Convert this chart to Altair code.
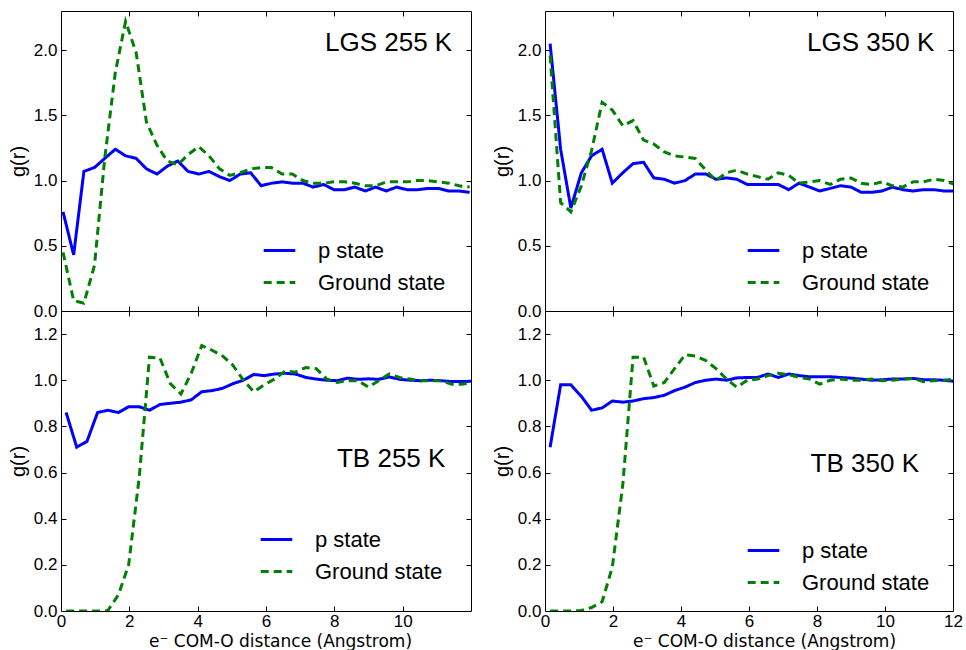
import altair as alt
import pandas as pd

# radial grid (Angstrom)
R_A = [0.06, 0.37, 0.67, 0.98, 1.28, 1.59, 1.89, 2.20, 2.50, 2.81, 3.11, 3.42, 3.72, 4.03, 4.33,
       4.64, 4.94, 5.25, 5.55, 5.86, 6.16, 6.47, 6.77, 7.08, 7.38, 7.69, 7.99, 8.30, 8.60, 8.91,
       9.21, 9.52, 9.82, 10.13, 10.43, 10.74, 11.04, 11.35, 11.65, 11.96]
R_B = [0.15, 0.46, 0.76, 1.07, 1.37, 1.68, 1.98, 2.29, 2.59, 2.90, 3.20, 3.51, 3.81, 4.12, 4.42,
       4.73, 5.03, 5.34, 5.64, 5.95, 6.25, 6.56, 6.86, 7.17, 7.47, 7.78, 8.08, 8.39, 8.69, 9.00,
       9.30, 9.61, 9.91, 10.22, 10.52, 10.83, 11.13, 11.44, 11.74, 12.05]

LGS255_P = [0.76, 0.43, 1.07, 1.10, 1.17, 1.24, 1.19, 1.17, 1.09, 1.05,
            1.11, 1.15, 1.07, 1.05, 1.07, 1.03, 1.00, 1.05, 1.06, 0.96,
            0.98, 0.99, 0.98, 0.98, 0.95, 0.97, 0.93, 0.93, 0.95, 0.92,
            0.95, 0.92, 0.95, 0.93, 0.93, 0.94, 0.94, 0.92, 0.92, 0.91]
LGS255_G = [0.45, 0.08, 0.06, 0.35, 1.17, 1.83, 2.22, 1.98, 1.45, 1.27,
            1.15, 1.12, 1.20, 1.26, 1.19, 1.09, 1.04, 1.06, 1.09, 1.10,
            1.10, 1.05, 1.05, 1.00, 0.98, 0.98, 0.99, 0.99, 0.98, 0.96,
            0.96, 0.99, 0.99, 0.99, 1.00, 1.00, 0.99, 0.98, 0.96, 0.95]
LGS350_P = [2.05, 1.24, 0.79, 1.06, 1.19, 1.24, 0.98, 1.06, 1.13, 1.14,
            1.02, 1.01, 0.98, 1.00, 1.05, 1.05, 1.01, 1.02, 1.01, 0.97,
            0.97, 0.97, 0.97, 0.93, 0.98, 0.95, 0.92, 0.94, 0.96, 0.95,
            0.91, 0.91, 0.92, 0.95, 0.93, 0.92, 0.93, 0.93, 0.92, 0.92]
LGS350_G = [1.96, 0.83, 0.76, 0.96, 1.23, 1.60, 1.54, 1.42, 1.46, 1.31,
            1.28, 1.22, 1.19, 1.18, 1.17, 1.08, 1.00, 1.06, 1.08, 1.05,
            1.03, 1.01, 1.06, 1.04, 0.98, 0.99, 1.00, 0.97, 1.01, 1.02,
            0.98, 0.97, 0.99, 0.96, 0.95, 0.99, 0.99, 1.01, 1.00, 0.97]
TB255_P = [0.86, 0.71, 0.735, 0.86, 0.87, 0.86, 0.885, 0.885, 0.87, 0.895,
           0.90, 0.905, 0.915, 0.95, 0.955, 0.965, 0.985, 1.00, 1.025, 1.02,
           1.027, 1.03, 1.027, 1.012, 1.005, 1.0, 0.998, 1.009, 1.004, 1.006,
           1.004, 1.014, 1.004, 1.0, 0.998, 1.0, 0.998, 0.994, 0.994, 0.996]
TB255_G = [0.0, 0.0, 0.0, 0.0, 0.002, 0.07, 0.20, 0.58, 1.10, 1.095,
           0.985, 0.94, 1.03, 1.15, 1.13, 1.105, 1.065, 1.0, 0.95, 0.98,
           1.005, 1.04, 1.035, 1.055, 1.05, 1.005, 0.99, 0.998, 0.998, 0.97,
           0.998, 1.027, 1.012, 1.005, 0.998, 0.998, 0.998, 0.983, 0.983, 0.99]
TB350_P = [0.71, 0.98, 0.98, 0.93, 0.87, 0.88, 0.91, 0.905, 0.91, 0.92,
           0.925, 0.935, 0.955, 0.97, 0.99, 1.0, 1.005, 1.0, 1.01, 1.012,
           1.012, 1.027, 1.012, 1.027, 1.02, 1.015, 1.015, 1.015, 1.012, 1.009,
           1.005, 1.0, 1.002, 1.005, 1.005, 1.008, 1.002, 1.002, 1.0, 0.995]
TB350_G = [0.0, 0.0, 0.0, 0.002, 0.015, 0.04, 0.19, 0.55, 1.10, 1.10,
           0.975, 0.99, 1.05, 1.11, 1.105, 1.085, 1.05, 1.005, 0.97, 1.0,
           1.005, 1.02, 1.03, 1.024, 1.012, 1.005, 0.983, 1.0, 1.005, 1.0,
           1.0, 1.005, 0.998, 1.0, 1.005, 1.008, 0.994, 0.998, 1.0, 1.005]

SERIES = ["p state", "Ground state"]
PANEL_LABELS = ["LGS 255 K", "LGS 350 K", "TB 255 K", "TB 350 K"]
LABEL_X = [11.45, 11.45, 11.25, 11.0]
LABEL_Y = [1.994, 1.994, 0.625, 0.604]
X_TITLE = "e\u207b COM-O distance (Angstrom)"

FONT = "Liberation Sans"
BLUE = "#0000ff"
GREEN = "#008000"


def tick_axis(orient, vals):
    return alt.Axis(orient=orient, values=vals, labels=False, domain=False, grid=False,
                    ticks=True, tickSize=5, tickColor="black", tickWidth=1, offset=-5,
                    title=None)


def panel(r, p, g, idx, ymax, yvals, yfmt, xlabels, w, legend_xy):
    df = pd.DataFrame({
        "r": list(r) + list(r),
        "g": list(p) + list(g),
        "series": [SERIES[0]] * len(p) + [SERIES[1]] * len(g),
    })
    xs = alt.Scale(domain=[0, 12], nice=False, zero=False)
    ys = alt.Scale(domain=[0, ymax], nice=False, zero=False)

    if xlabels is None:
        xaxis = None
    else:
        xaxis = alt.Axis(orient="bottom", values=xlabels, format="d", ticks=False, domain=False,
                         grid=False, labelFont=FONT, labelFontSize=17, labelColor="black",
                         labelPadding=2, labelFlush=False, labelOverlap=False,
                         title=X_TITLE, titleFont="DejaVu Sans", titleFontSize=17,
                         titleFontWeight="normal", titleColor="black",
                         titleX=219, titleY=35, titleBaseline="alphabetic")
    yaxis = alt.Axis(orient="left", values=yvals, format=yfmt, ticks=False, domain=False,
                     grid=False, labelFont=FONT, labelFontSize=17, labelColor="black",
                     labelPadding=4, labelOverlap=False, labelFlush=False,
                     title="g(r)", titleFont=FONT, titleFontSize=20, titleFontWeight="normal",
                     titleColor="black", titlePadding=5)

    leg = alt.Legend(title=None, orient="none", legendX=legend_xy[0], legendY=legend_xy[1],
                     symbolType="stroke", symbolSize=1000, symbolStrokeWidth=3,
                     labelFont=FONT, labelFontSize=22, labelColor="black", labelOffset=21,
                     rowPadding=3, padding=0)

    lines = alt.Chart(df).mark_line(strokeWidth=3, clip=True).encode(
        x=alt.X("r:Q", scale=xs, axis=xaxis),
        y=alt.Y("g:Q", scale=ys, axis=yaxis),
        color=alt.Color("series:N", scale=alt.Scale(domain=SERIES, range=[BLUE, GREEN]), legend=leg),
        strokeDash=alt.StrokeDash("series:N", scale=alt.Scale(domain=SERIES, range=[[1, 0], [8, 5]]),
                                  legend=leg),
    )
    xt = [2, 4, 6, 8, 10]
    yt = [v for v in yvals if v > 0]
    ticks1 = alt.Chart(df).mark_line(opacity=0).encode(
        x=alt.X("r:Q", scale=xs, axis=tick_axis("bottom", xt)),
        y=alt.Y("g:Q", scale=ys, axis=tick_axis("left", yt)),
    )
    ticks2 = alt.Chart(df).mark_line(opacity=0).encode(
        x=alt.X("r:Q", scale=xs, axis=tick_axis("top", xt)),
        y=alt.Y("g:Q", scale=ys, axis=tick_axis("right", yt)),
    )
    ann = pd.DataFrame({"x": [LABEL_X[idx]], "y": [LABEL_Y[idx]], "t": [PANEL_LABELS[idx]]})
    text = alt.Chart(ann).mark_text(align="right", baseline="alphabetic", font=FONT,
                                    fontSize=26, color="black").encode(
        x=alt.X("x:Q", scale=xs, axis=None),
        y=alt.Y("y:Q", scale=ys, axis=None),
        text="t:N",
    )
    return alt.layer(lines, ticks1, ticks2, text).resolve_axis(
        x="independent", y="independent").properties(width=w, height=300)


top_y = [0.0, 0.5, 1.0, 1.5, 2.0]
bot_y = [0.0, 0.2, 0.4, 0.6, 0.8, 1.0, 1.2]

tl = panel(R_A, LGS255_P, LGS255_G, 0, 2.3, top_y, ".1f", None, 410, (201, 222))
tr = panel(R_B, LGS350_P, LGS350_G, 1, 2.3, top_y, ".1f", None, 408, (201, 222))
bl = panel(R_B, TB255_P, TB255_G, 2, 1.3, bot_y, ".1f", [0, 2, 4, 6, 8, 10], 410, (198, 211))
br = panel(R_B, TB350_P, TB350_G, 3, 1.3, bot_y, ".1f", [0, 2, 4, 6, 8, 10, 12], 408, (201, 222))

chart = alt.concat(tl, tr, bl, br, columns=2, spacing={"row": 0, "column": 74},
                   bounds="flush").resolve_legend(
    color="independent", strokeDash="independent"
).properties(
    padding={"left": 7, "top": 10, "right": 0, "bottom": 0},
    background="white",
).configure_view(stroke="black", strokeWidth=1)

chart.save("out.html", embed_options={"renderer": "svg", "actions": False})
